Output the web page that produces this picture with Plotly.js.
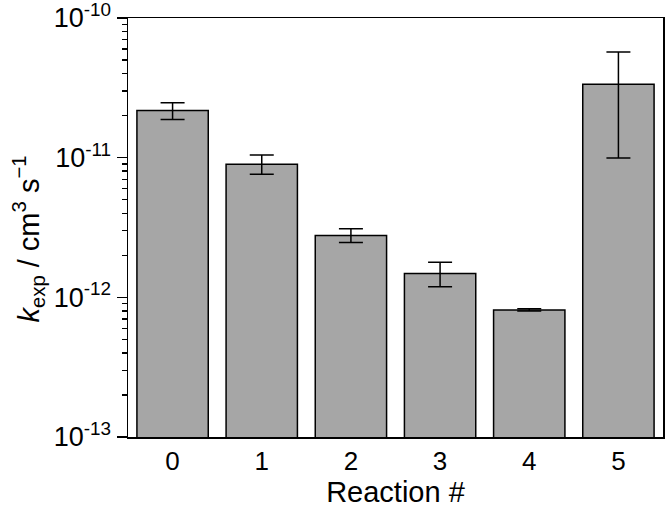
<!DOCTYPE html>
<html>
<head>
<meta charset="utf-8">
<script src="https://cdn.plot.ly/plotly-3.0.1.min.js"></script>
<style>html,body{margin:0;padding:0;background:#fff;}#chart{width:666px;height:508px;}</style>
</head>
<body>
<div id="chart"></div>
<script>
// Reaction categories
const reactions = ['0', '1', '2', '3', '4', '5'];
// Measured rate coefficients k_exp (cm^3 s^-1)
const kExp = [2.18e-11, 8.97e-12, 2.77e-12, 1.48e-12, 8.13e-13, 3.36e-11];
// Upper and lower ends of the error bars
const kUpper = [2.47e-11, 1.045e-11, 3.10e-12, 1.78e-12, 8.30e-13, 5.72e-11];
const kLower = [1.88e-11, 7.61e-12, 2.47e-12, 1.19e-12, 7.98e-13, 9.95e-12];
// Y tick values and labels
const yTickVals = [1e-13, 1e-12, 1e-11, 1e-10];
const yTickText = ['10<sup>-13</sup>', '10<sup>-12</sup>', '10<sup>-11</sup>', '10<sup>-10</sup>'];
const yMinorVals = [];
for (const d of [1e-13, 1e-12, 1e-11]) { for (let m = 2; m <= 9; m++) yMinorVals.push(m * d); }
const yTitle = '<i>k</i><sub>exp</sub> / cm<sup>3</sup> s<sup>−1</sup>';

const errPlus = kExp.map((v, i) => kUpper[i] - v);
const errMinus = kExp.map((v, i) => v - kLower[i]);

const trace = {
  type: 'bar',
  x: reactions,
  y: kExp,
  marker: { color: '#a6a6a6', line: { color: '#000', width: 1.5 } },
  width: 0.8,
  error_y: { type: 'data', symmetric: false, array: errPlus, arrayminus: errMinus,
             color: '#000', thickness: 1.5, width: 12 },
  hoverinfo: 'skip'
};

const font = 'Liberation Sans, Arial, sans-serif';
const layout = {
  width: 666, height: 508,
  margin: { l: 128, r: 3, t: 18, b: 71 },
  paper_bgcolor: '#fff', plot_bgcolor: '#fff',
  showlegend: false,
  font: { family: font, color: '#000', size: 27 },
  xaxis: {
    type: 'category', range: [-0.5, 5.5],
    showline: true, linecolor: '#000', linewidth: 1.5, mirror: true,
    ticks: '', showgrid: false, zeroline: false,
    tickfont: { size: 26, family: font, color: '#000' },
    title: { text: 'Reaction #', font: { size: 29, family: font, color: '#000' }, standoff: 6 }
  },
  yaxis: {
    type: 'log', range: [-13, -10],
    showline: true, linecolor: '#000', linewidth: 1.5, mirror: true,
    ticks: 'outside', ticklen: 10, tickwidth: 1.5, tickcolor: '#000',
    tickmode: 'array', tickvals: yTickVals, ticktext: yTickText,
    ticklabeloverflow: 'allow',
    minor: { tickmode: 'array', tickvals: yMinorVals, ticks: 'outside', ticklen: 5, tickwidth: 1.5, tickcolor: '#000', showgrid: false },
    showgrid: false, zeroline: false,
    tickfont: { size: 27, family: font, color: '#000' }
  },
  annotations: [{
    text: yTitle, textangle: -90, showarrow: false,
    xref: 'paper', yref: 'paper', x: 0, y: 0.5,
    xanchor: 'center', yanchor: 'middle', xshift: -100, yshift: -12,
    font: { size: 29, family: font, color: '#000' }
  }]
};

Plotly.newPlot('chart', [trace], layout, { displayModeBar: false, staticPlot: true });
</script>
</body>
</html>
